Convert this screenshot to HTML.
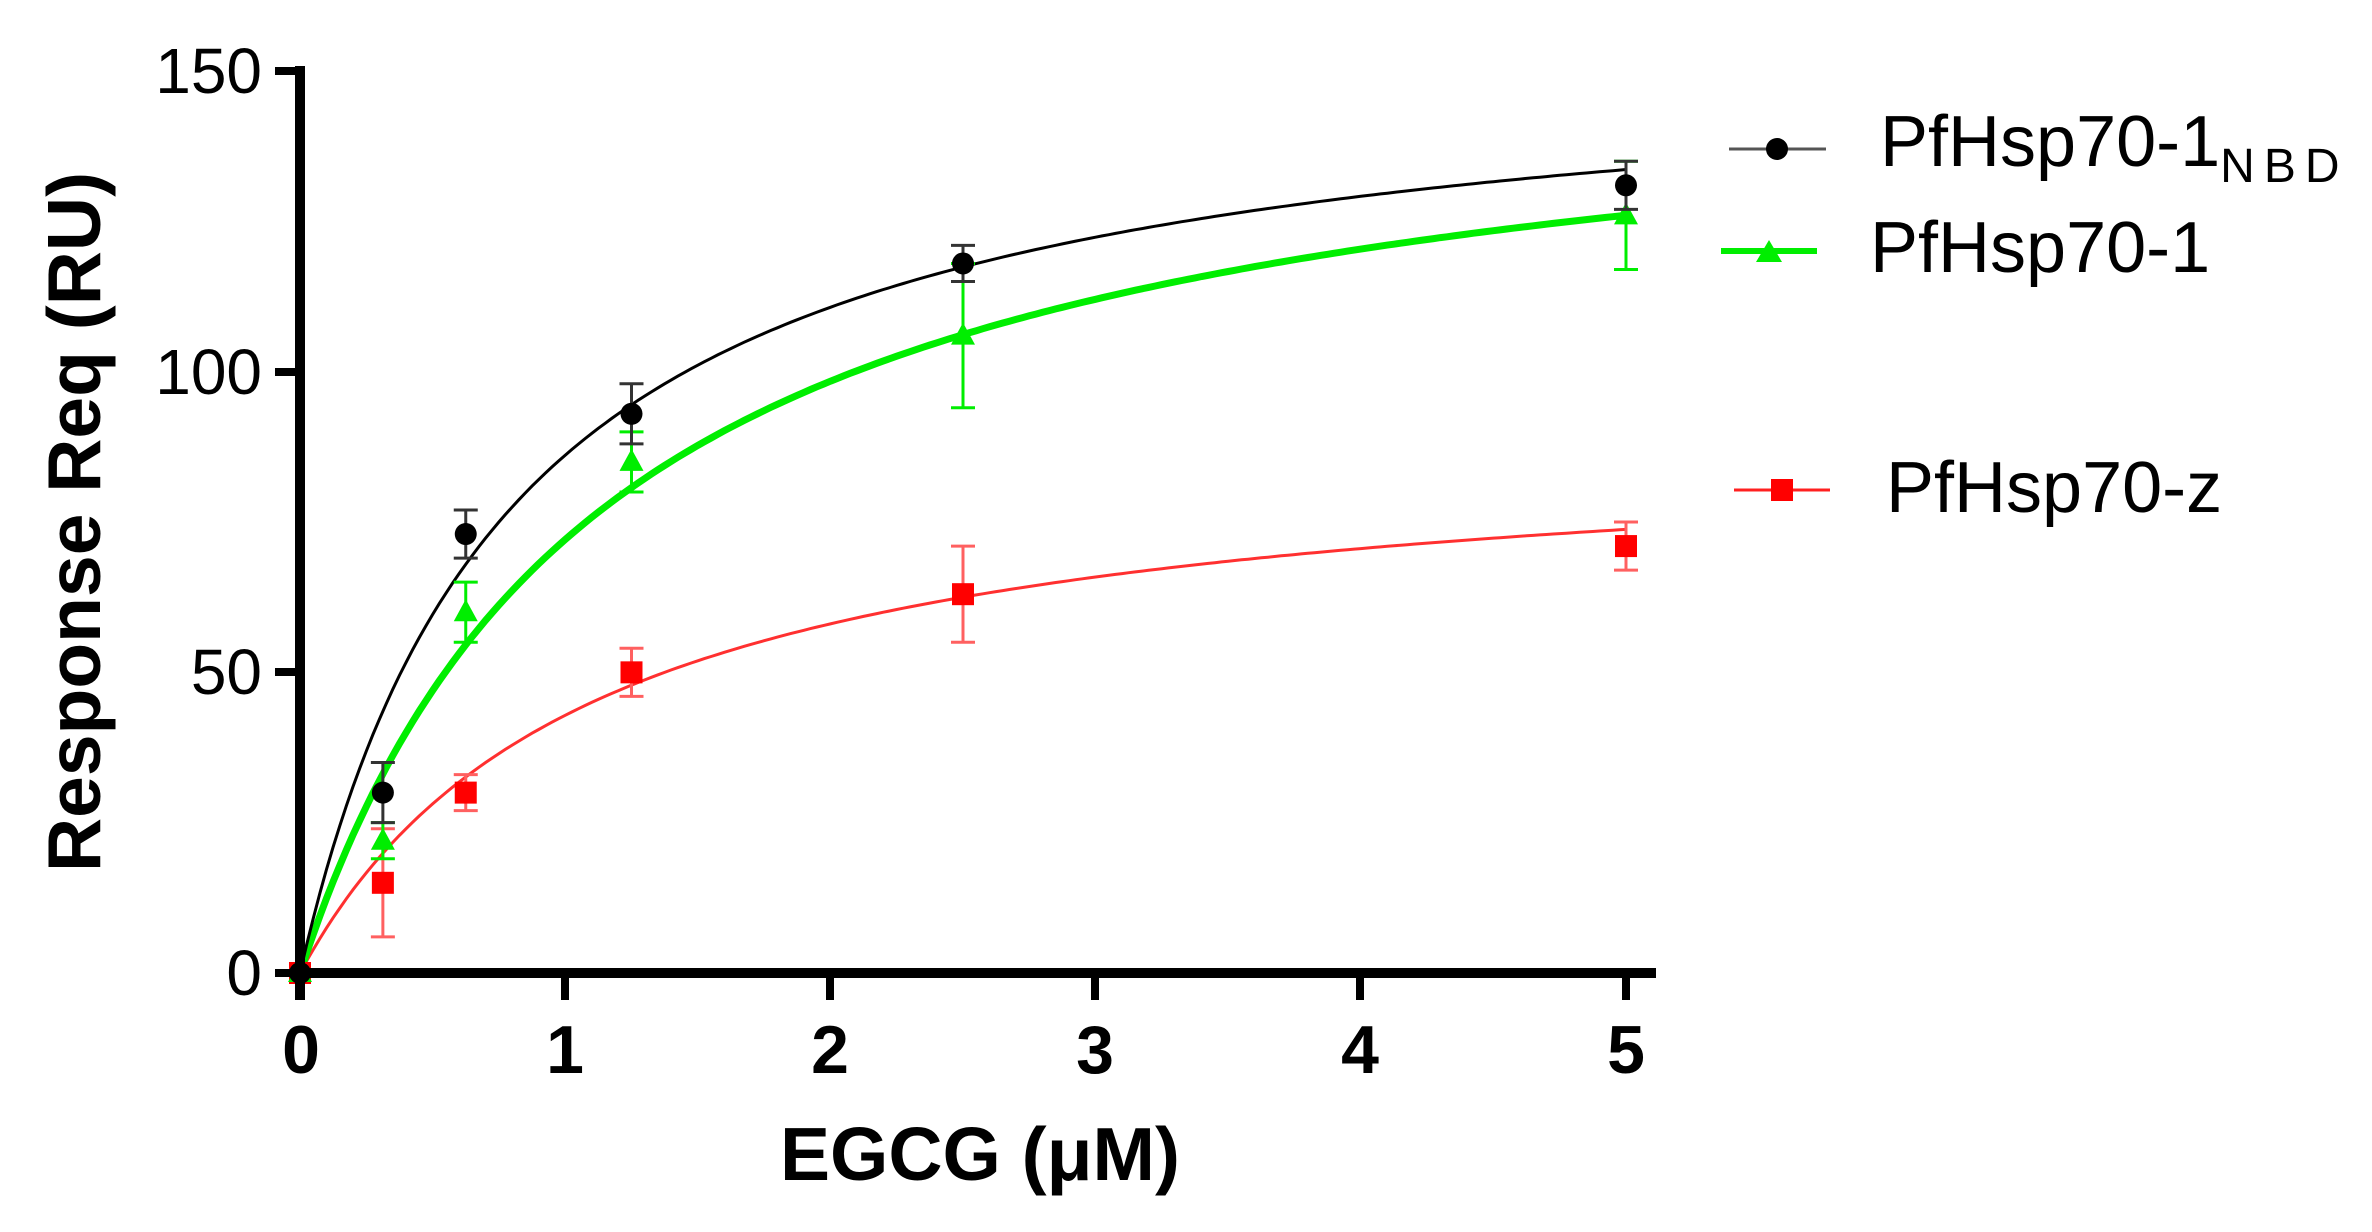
<!DOCTYPE html>
<html><head><meta charset="utf-8"><style>
html,body{margin:0;padding:0;background:#fff;}
svg{display:block;}
text{font-family:"Liberation Sans",sans-serif;}
</style></head><body>
<svg id="s" width="2372" height="1232" viewBox="0 0 2372 1232" xmlns="http://www.w3.org/2000/svg">
<g id="plot"></g>
<line x1="300" y1="66" x2="300" y2="1000" stroke="#000" stroke-width="10"/>
<line x1="295" y1="973" x2="1656" y2="973" stroke="#000" stroke-width="10"/>
<g stroke="#000" stroke-width="8">
<line x1="275" y1="71" x2="300" y2="71"/>
<line x1="275" y1="372" x2="300" y2="372"/>
<line x1="275" y1="672" x2="300" y2="672"/>
<line x1="275" y1="973" x2="300" y2="973"/>
<line x1="565" y1="973" x2="565" y2="1000"/>
<line x1="830" y1="973" x2="830" y2="1000"/>
<line x1="1095" y1="973" x2="1095" y2="1000"/>
<line x1="1360" y1="973" x2="1360" y2="1000"/>
<line x1="1626" y1="973" x2="1626" y2="1000"/>
</g>
<g font-size="64" text-anchor="end">
<text x="262" y="93">150</text>
<text x="262" y="394">100</text>
<text x="262" y="694">50</text>
<text x="262" y="995">0</text>
</g>
<g font-size="68" font-weight="bold" text-anchor="middle">
<text x="301" y="1073">0</text>
<text x="565" y="1073">1</text>
<text x="830" y="1073">2</text>
<text x="1095" y="1073">3</text>
<text x="1360" y="1073">4</text>
<text x="1626" y="1073">5</text>
</g>
<text x="980" y="1180" font-size="75" font-weight="bold" text-anchor="middle">EGCG (μM)</text>
<text transform="translate(100,522) rotate(-90)" font-size="75" font-weight="bold" text-anchor="middle">Response Req (RU)</text>
<line x1="1729" y1="149" x2="1826" y2="149" stroke="#555" stroke-width="3"/>
<circle cx="1777" cy="149" r="11" fill="#000"/>
<text x="1880" y="166" font-size="72">PfHsp70-1<tspan font-size="48" dy="16" letter-spacing="9">NBD</tspan></text>
<line x1="1721" y1="251" x2="1817" y2="251" stroke="#00ee00" stroke-width="6"/>
<polygon points="1769,240 1782,262 1756,262" fill="#00ee00"/>
<text x="1870" y="272" font-size="72">PfHsp70-1</text>
<line x1="1734" y1="490" x2="1830" y2="490" stroke="#ff2020" stroke-width="3"/>
<rect x="1771" y="479" width="22" height="22" fill="#ff0000"/>
<text x="1886" y="512" font-size="72">PfHsp70-z</text>
</svg>
<script>
var X=function(x){return 300+265.2*x}, Y=function(y){return 973-6.013*y};
var g=document.getElementById('plot'),NS='http://www.w3.org/2000/svg';
function el(t,a){var e=document.createElementNS(NS,t);for(var k in a)e.setAttribute(k,a[k]);g.appendChild(e);return e;}
var xs=[0,0.3125,0.625,1.25,2.5,5];
var series=[
 {B:90,K:1.1,col:'#ff3030',lw:3,ec:'#ff6060',d:[0,15,30,50,63,71],e:[0,9,3,4,8,4],m:'sq'},
 {B:155,K:1.15,col:'#00ee00',lw:7,ec:'#00ee00',d:[0,22,60,85,106,126],e:[0,3,5,5,12,9],m:'tri'},
 {B:155,K:0.8,col:'#000',lw:3,ec:'#333',d:[0,30,73,93,118,131],e:[0,5,4,5,3,4],m:'c'}
];
series.forEach(function(s){
 var p='';for(var i=0;i<=200;i++){var x=5*i/200;p+=(i?'L':'M')+X(x).toFixed(1)+','+Y(s.B*x/(s.K+x)).toFixed(1);}
 el('path',{d:p,fill:'none',stroke:s.col,'stroke-width':s.lw});
});
series.forEach(function(s){
 for(var i=0;i<6;i++){
  var cx=X(xs[i]),cy=Y(s.d[i]),e=s.e[i]*6.013;
  if(e>0){
   el('line',{x1:cx,y1:cy-e,x2:cx,y2:cy+e,stroke:s.ec,'stroke-width':3});
   el('line',{x1:cx-12,y1:cy-e,x2:cx+12,y2:cy-e,stroke:s.ec,'stroke-width':3});
   el('line',{x1:cx-12,y1:cy+e,x2:cx+12,y2:cy+e,stroke:s.ec,'stroke-width':3});
  }
  if(s.m=='sq')el('rect',{x:cx-11,y:cy-11,width:22,height:22,fill:'#ff0000'});
  else if(s.m=='tri')el('polygon',{points:(cx)+','+(cy-13)+' '+(cx+12)+','+(cy+9)+' '+(cx-12)+','+(cy+9),fill:'#00ee00'});
  else el('circle',{cx:cx,cy:cy,r:11,fill:'#000'});
 }
});
</script>
</body></html>
